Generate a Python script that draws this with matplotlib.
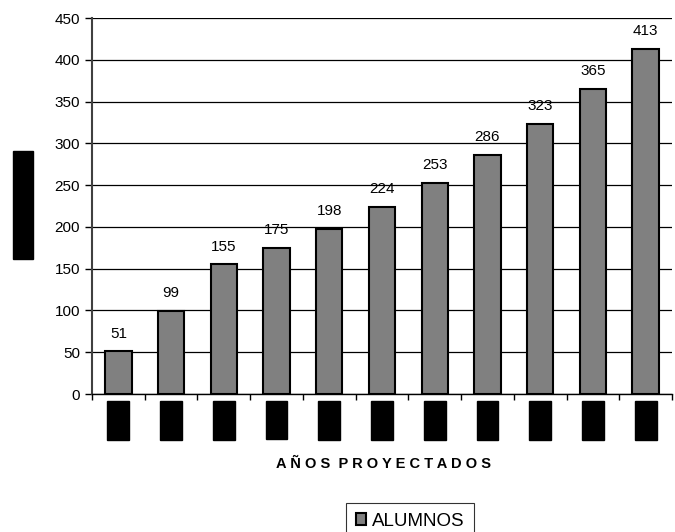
import matplotlib.pyplot as plt
import numpy as np

plt.rcParams['font.family'] = ['Liberation Sans', 'DejaVu Sans']

# data
years = ['2008', '2009', '2010', '2011', '2012', '2013', '2014', '2015', '2016', '2017', '2018']
alumnos = [51, 99, 155, 175, 198, 224, 253, 286, 323, 365, 413]

fig = plt.figure(figsize=(6.75, 5.32), dpi=100)
ax = fig.add_axes([92/675, 1 - 394/532, 580/675, 376/532])

x = np.arange(len(alumnos))
bars = ax.bar(x, alumnos, width=0.5, color='#808080', edgecolor='black', linewidth=1.5,
              label='ALUMNOS', zorder=3)

for xi, v in zip(x, alumnos):
    ax.text(xi, v + 13, str(v), ha='center', va='bottom', fontsize=11, color='black')

ax.set_xlim(-0.5, len(alumnos) - 0.5)
ax.set_ylim(0, 450)
ax.set_yticks(range(0, 451, 50))
ax.yaxis.grid(True, color='black', linewidth=0.9, zorder=0)
ax.tick_params(axis='y', labelsize=11, length=5, width=1, direction='out')

# x ticks at category boundaries, labels (redacted boxes) centered under bars
ax.set_xticks(np.arange(-0.5, len(alumnos), 1.0))
ax.set_xticklabels([])
ax.tick_params(axis='x', length=4, width=1, direction='out')
for xi, lab in zip(x, years):
    ax.text(xi, -13, lab, rotation=90, ha='center', va='top', fontsize=10, color='black',
            bbox=dict(facecolor='black', edgecolor='black', pad=2.8))

ax.spines['top'].set_visible(False)
ax.spines['right'].set_visible(False)
ax.spines['left'].set_color('#404040')
ax.spines['left'].set_linewidth(1.5)
ax.spines['bottom'].set_linewidth(1)

fig.text(384/675, 1 - 464/532, 'A Ñ O S  P R O Y E C T A D O S',
         ha='center', va='center', fontsize=10.5, fontweight='bold')

fig.text(23/675, 1 - 205/532, 'ALUMNOS PROYECTADOS', rotation=90, ha='center', va='center',
         fontsize=5.3, color='black',
         bbox=dict(facecolor='black', edgecolor='black', pad=5))

leg = ax.legend(loc='center', bbox_to_anchor=(410/675, 1 - 521/532), bbox_transform=fig.transFigure,
                fontsize=13.5, frameon=True, fancybox=False, edgecolor='black',
                handlelength=0.55, handleheight=0.55, handletextpad=0.3, borderpad=0.5,
                borderaxespad=0)
leg.get_frame().set_linewidth(0.8)

fig.savefig('out.png', dpi=100)
